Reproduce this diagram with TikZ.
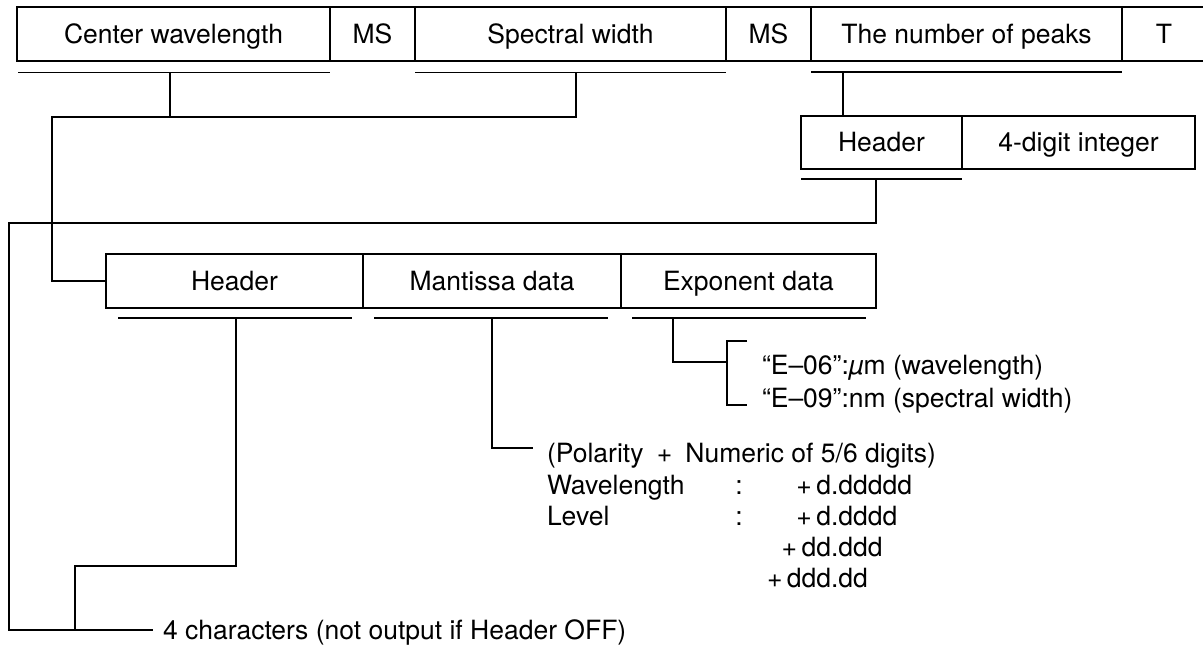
\documentclass[tikz,border=0pt]{standalone}
\usepackage{fontspec}
\setmainfont{TeX Gyre Heros}
\usetikzlibrary{calc}
\begin{document}
\begin{tikzpicture}[x=1pt,y=-1pt,line width=1.7pt,
  field/.style={draw, rectangle, inner sep=0pt, outer sep=0pt,
    minimum height=54pt, text height=19pt, text depth=0pt,
    font=\fontsize{26.5}{31}\selectfont},
  txt/.style={inner sep=0pt, outer sep=0pt, font=\fontsize{26.5}{31}\selectfont},
  rule/.style={line width=1.7pt},
]
\fill[white] (0,0) rectangle (1203,650);
\useasboundingbox (0,0) rectangle (1203,650);

% ---- output record: top row of fields ----
\node[field, minimum width=313pt] (cw)  at (173.5,34) {Center wavelength};
\node[field, minimum width=85pt]  (ms1) at (372.5,34) {MS};
\node[field, minimum width=311pt] (sw)  at (570.5,34) {Spectral width};
\node[field, minimum width=85pt]  (ms2) at (768.5,34) {MS};
\node[field, minimum width=311pt] (np)  at (966.5,34) {The number of peaks};
\node[field, minimum width=84pt]  (tt)  at (1164,34) {T};

% ---- peak count: header + integer ----
\node[field, minimum width=161pt, minimum height=53pt] (hd2) at (881.5,142.5) {Header};
\node[field, minimum width=233pt, minimum height=53pt] (dg)  at (1078.5,142.5) {4-digit integer};

% ---- numeric value: header + mantissa + exponent ----
\node[field, minimum width=257pt] (hd)  at (234.5,281) {Header};
\node[field, minimum width=258pt] (man) at (492,281) {Mantissa data};
\node[field, minimum width=255pt] (ex)  at (748.5,281) {Exponent data};

% ---- underlines marking each field's extent ----
\coordinate (ucwL) at (18,72.5);   \coordinate (ucwR) at (330,72.5);
\coordinate (uswL) at (415,72.5);  \coordinate (uswR) at (726,72.5);
\coordinate (unpL) at (811,72);    \coordinate (unpR) at (1122,72);
\coordinate (uh2L) at (801,179);   \coordinate (uh2R) at (962,179);
\coordinate (uhdL) at (118,318);   \coordinate (uhdR) at (352,318);
\coordinate (umaL) at (374,318);   \coordinate (umaR) at (608,318);
\coordinate (uexL) at (632,318);   \coordinate (uexR) at (866,318);
\foreach \a/\b in {ucwL/ucwR, uswL/uswR, unpL/unpR, uh2L/uh2R, uhdL/uhdR, umaL/umaR, uexL/uexR}
  \draw[rule] (\a) -- (\b);

% ---- explanatory texts ----
\node[txt, anchor=base west] (e6) at (762,374) {“E–06”:\textit{µ}m (wavelength)};
\node[txt, anchor=base west] (e9) at (762,407) {“E–09”:nm (spectral width)};

\node[txt, anchor=base west] (pol) at (547,462) {(Polarity\enspace+\enspace Numeric of 5/6 digits)};
\node[txt, anchor=base west] (wl)  at (547,494) {Wavelength};
\node[txt, anchor=base west] (lv)  at (547,525) {Level};
\node[txt, anchor=base] (c1) at (739,494) {:};
\node[txt, anchor=base] (c2) at (739,525) {:};
\node[txt, anchor=base west] (v1) at (767,494) {\phantom{dd}+\,d.ddddd};
\node[txt, anchor=base west] (v2) at (767,525) {\phantom{dd}+\,d.dddd};
\node[txt, anchor=base west] (v3) at (767,556) {\phantom{d}+\,dd.ddd};
\node[txt, anchor=base west] (v4) at (767,587) {+\,ddd.dd};

\node[txt, anchor=base west] (note) at (163,639) {4 characters (not output if Header OFF)};

% ---- connectors ----
\coordinate (cwDrop) at (170,72.5);
\coordinate (swDrop) at (576,72.5);
\coordinate (busL)   at (52,117);
\draw (swDrop) |- (busL) |- (hd.west);
\draw (cwDrop) -- (cwDrop |- busL);

\coordinate (npDrop) at (843,72);
\draw (npDrop) -- (npDrop |- hd2.north);

\coordinate (h2Drop) at (876,179);
\coordinate (leftBus) at (9,223);
\coordinate (noteEnd) at (153,630);
\draw (h2Drop) |- (leftBus) |- (noteEnd);

\coordinate (hdDrop) at (236,318);
\coordinate (hdJog)  at (75,566);
\draw (hdDrop) |- (hdJog) -- (hdJog |- noteEnd);

\coordinate (maDrop) at (492,318);
\coordinate (maEnd)  at (533,448);
\draw (maDrop) |- (maEnd);

\coordinate (exDrop) at (673,318);
\coordinate (brMid)  at (727,362);
\draw (exDrop) |- (brMid);
\draw (747,341) -- (727,341) -- (727,405) -- (747,405);
\end{tikzpicture}
\end{document}
